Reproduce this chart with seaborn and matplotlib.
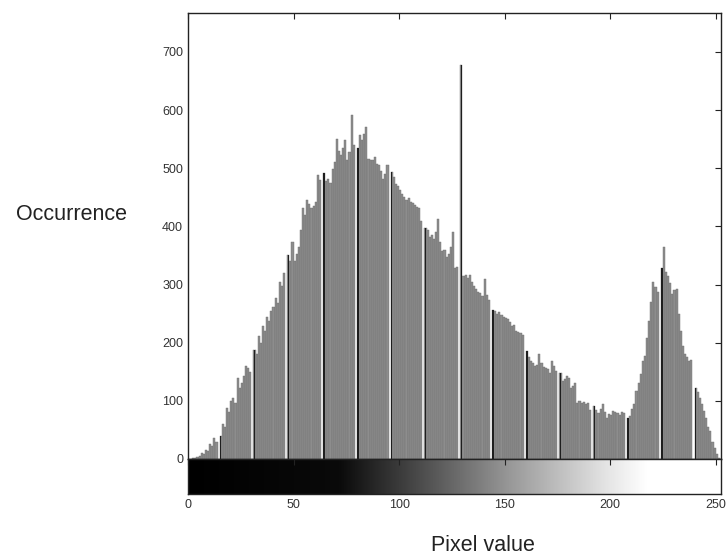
import matplotlib
matplotlib.use("Agg")
import matplotlib.pyplot as plt
from matplotlib.colors import LinearSegmentedColormap
import seaborn as sns
import numpy as np

# histogram counts, one per grey level 0..255
counts = [
    0, 0, 1, 2, 4, 6, 11, 9, 16, 14, 26, 22, 36, 30, 34, 39,
    60, 55, 88, 80, 99, 105, 96, 139, 122, 130, 142, 160, 157, 150, 165, 188,
    180, 211, 200, 228, 220, 245, 238, 254, 262, 276, 268, 305, 298, 319, 322, 351,
    340, 374, 340, 352, 365, 394, 431, 420, 446, 438, 431, 435, 442, 489, 480, 494,
    491, 478, 482, 475, 499, 510, 551, 530, 523, 535, 549, 515, 528, 592, 540, 528,
    535, 557, 548, 559, 571, 516, 515, 514, 520, 508, 506, 495, 482, 490, 505, 511,
    494, 485, 473, 470, 462, 456, 450, 446, 448, 442, 440, 437, 433, 431, 410, 394,
    398, 394, 382, 385, 379, 390, 412, 374, 357, 360, 348, 352, 365, 391, 328, 330,
    322, 677, 315, 317, 312, 317, 305, 297, 292, 288, 285, 280, 310, 282, 274, 268,
    257, 255, 250, 252, 248, 245, 242, 240, 235, 228, 230, 220, 218, 216, 214, 214,
    185, 175, 168, 165, 160, 162, 180, 165, 158, 156, 154, 148, 168, 160, 151, 150,
    148, 134, 138, 142, 140, 122, 126, 130, 96, 100, 96, 98, 94, 96, 85, 79,
    91, 84, 79, 86, 94, 80, 70, 77, 75, 82, 80, 79, 76, 80, 79, 72,
    70, 74, 86, 94, 117, 130, 146, 168, 177, 208, 237, 270, 305, 295, 288, 334,
    328, 365, 322, 315, 302, 283, 290, 293, 250, 220, 195, 180, 175, 168, 170, 171,
    122, 115, 105, 95, 82, 70, 55, 48, 30, 19, 8, 2, 0, 0, 0, 0,
]
# bins that print as dark lines / empty white gaps in the scan
dark_bins = [15, 31, 47, 64, 80, 96, 112, 129, 144, 160, 176, 192, 208, 224, 240]
gap_bins = [14, 30, 46, 63, 79, 95, 111, 128, 143, 159, 175, 191, 207, 223, 239]
levels = np.arange(256)
x_ticks = [0, 50, 100, 150, 200, 250]
y_ticks = [0, 100, 200, 300, 400, 500, 600, 700]

counts = np.array(counts, dtype=float)
counts[gap_bins] = 0

sns.set_style("white")
plt.rcParams["font.family"] = ["Liberation Sans", "DejaVu Sans"]

fig = plt.figure(figsize=(7.27, 5.59), dpi=100)
ax = fig.add_axes([0.2586, 0.1789, 0.7331, 0.7979])
axb = fig.add_axes([0.2586, 0.1163, 0.7331, 0.0626])

sns.histplot(x=levels, weights=counts, bins=256, binrange=(0, 256),
             color="#8d8d8d", alpha=1, edgecolor="#6e6e6e", linewidth=0.3, ax=ax)
sns.histplot(x=np.array(dark_bins), weights=counts[dark_bins], bins=256, binrange=(0, 256),
             color="#1e1e1e", alpha=1, linewidth=0, shrink=0.7, ax=ax)

ax.set_xlim(0, 252.5)
ax.set_ylim(0, 767)
ax.set_xticks(x_ticks)
ax.set_xticklabels([])
ax.set_yticks(y_ticks)
ax.set_yticklabels([str(v) for v in y_ticks], fontsize=9, color="#333333")
ax.set_xlabel("")
ax.set_ylabel("")
ax.tick_params(direction="in", length=4, top=True, right=True, width=0.8, color="#222222")
for s in ax.spines.values():
    s.set_color("#222222")
    s.set_linewidth(1.0)

# grey-level strip under the histogram
strip = LinearSegmentedColormap.from_list(
    "strip", [(0, "black"), (0.28, "#0a0a0a"), (0.45, "#555555"),
              (0.6, "#9a9a9a"), (0.78, "#e6e6e6"), (0.85, "white"), (1, "white")])
axb.imshow(levels[np.newaxis, :], cmap=strip, aspect="auto", extent=(0, 256, 0, 1))
axb.set_xlim(0, 252.5)
axb.set_ylim(0, 1)
axb.set_yticks([])
axb.set_xticks(x_ticks)
axb.set_xticklabels([str(v) for v in x_ticks], fontsize=9, color="#333333")
axb.tick_params(direction="in", length=4, top=True, width=0.8, color="#222222")
for s in axb.spines.values():
    s.set_color("#222222")
    s.set_linewidth(1.0)

fig.text(0.0977, 0.617, "Occurrence", fontsize=15.5, ha="center", va="center", color="#222222")
fig.text(0.664, 0.0233, "Pixel value", fontsize=15.5, ha="center", va="center", color="#222222")

fig.savefig("out.png", dpi=100, facecolor="white")
